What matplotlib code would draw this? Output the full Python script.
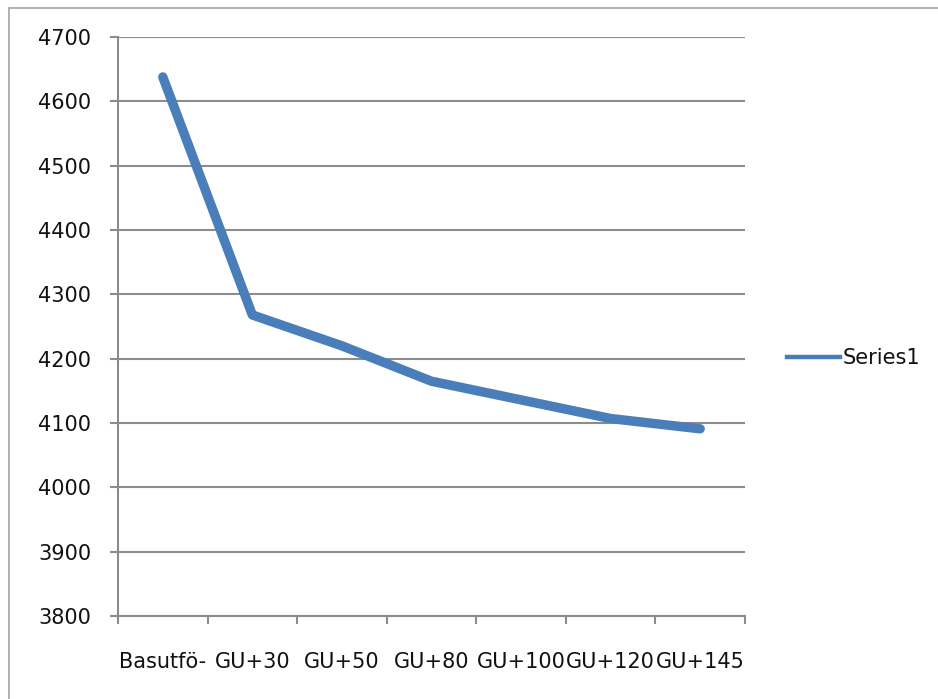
import matplotlib.pyplot as plt
from matplotlib.lines import Line2D
from matplotlib import ticker

categories = ['Basutfö-', 'GU+30', 'GU+50', 'GU+80', 'GU+100', 'GU+120', 'GU+145']
series1 = [4638, 4268, 4220, 4165, 4136, 4107, 4091]
y_ticks = [3800, 3900, 4000, 4100, 4200, 4300, 4400, 4500, 4600, 4700]

plt.rcParams['font.family'] = 'DejaVu Sans'
plt.rcParams['font.size'] = 15

fig = plt.figure(figsize=(9.38, 6.99), dpi=100)
ax = fig.add_axes([0.1258, 0.1187, 0.6684, 0.8283])

x = list(range(len(categories)))
ax.plot(x, series1, color='#4a7ebb', lw=6.8, solid_capstyle='round',
        solid_joinstyle='round', zorder=3)

ax.set_xlim(-0.5, len(categories) - 0.5)
ax.set_ylim(3800, 4700)
ax.set_yticks(y_ticks)

# tick marks sit between categories, labels sit under the category centres
ax.xaxis.set_major_locator(ticker.FixedLocator([i - 0.5 for i in range(len(categories) + 1)]))
ax.xaxis.set_major_formatter(ticker.NullFormatter())
ax.xaxis.set_minor_locator(ticker.FixedLocator(x))
ax.xaxis.set_minor_formatter(ticker.FixedFormatter(categories))
ax.tick_params(axis='x', which='major', direction='out', length=5.8, width=1.5, color='#8c8c8c')
ax.tick_params(axis='x', which='minor', length=0, pad=26, labelsize=15, labelcolor='#111111')
ax.tick_params(axis='y', direction='out', length=5.8, width=1.5, color='#8c8c8c',
               pad=13.5, labelsize=15, labelcolor='#111111')

ax.grid(axis='y', color='#8c8c8c', lw=1.5)
ax.set_axisbelow(True)
for side in ['top', 'right']:
    ax.spines[side].set_visible(False)
for side in ['left', 'bottom']:
    ax.spines[side].set_color('#8c8c8c')
    ax.spines[side].set_linewidth(1.5)

handle = Line2D([], [], color='#4a7ebb', lw=3.2)
fig.legend([handle], ['Series1'], loc='center left', bbox_to_anchor=(787 / 938, 1 - 358 / 699),
           frameon=False, borderpad=0, borderaxespad=0, handlelength=2.55,
           handletextpad=0.1, fontsize=15, labelcolor='#111111')

# outer chart border (only top and left edges fall inside the frame)
fig.add_artist(Line2D([9 / 938, 9 / 938], [0, 1 - 7.5 / 699], color='#ababab', lw=1.3))
fig.add_artist(Line2D([9 / 938, 1], [1 - 7.5 / 699, 1 - 7.5 / 699], color='#ababab', lw=1.3))

fig.savefig('out.png', dpi=100)
